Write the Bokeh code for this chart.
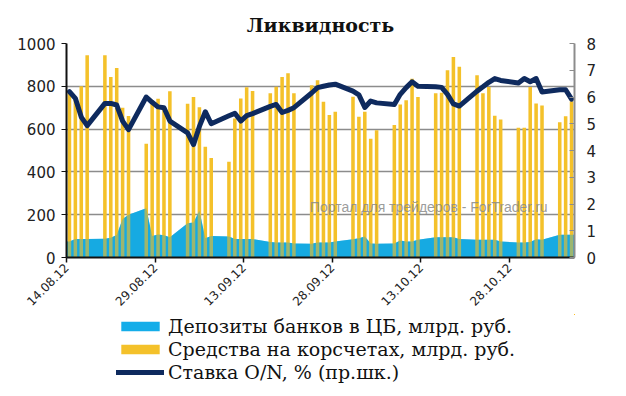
import math
import pandas as pd
from bokeh.plotting import figure
from bokeh.layouts import column
from bokeh.models import (ColumnDataSource, Range1d, LinearAxis, FixedTicker,
                          Legend, LegendItem, Label)
from bokeh.embed import file_html
from bokeh.resources import INLINE

# ---------------- data ----------------
dates = [
    "14.08.12", "15.08.12", "16.08.12", "17.08.12",
    "20.08.12", "21.08.12", "22.08.12", "23.08.12", "24.08.12",
    "27.08.12", "28.08.12", "29.08.12", "30.08.12", "31.08.12",
    "03.09.12", "04.09.12", "05.09.12", "06.09.12", "07.09.12",
    "10.09.12", "11.09.12", "12.09.12", "13.09.12", "14.09.12",
    "17.09.12", "18.09.12", "19.09.12", "20.09.12", "21.09.12",
    "24.09.12", "25.09.12", "26.09.12", "27.09.12", "28.09.12",
    "01.10.12", "02.10.12", "03.10.12", "04.10.12", "05.10.12",
    "08.10.12", "09.10.12", "10.10.12", "11.10.12", "12.10.12",
    "15.10.12", "16.10.12", "17.10.12", "18.10.12", "19.10.12",
    "22.10.12", "23.10.12", "24.10.12", "25.10.12", "26.10.12",
    "29.10.12", "30.10.12", "31.10.12", "01.11.12", "02.11.12",
    "05.11.12", "06.11.12", "07.11.12",
]
korr = [
    770, 750, 800, 945,
    945, 843, 886, 700, 661,
    532, 735, 742, 700, 777,
    718, 750, 702, 517, 465,
    448, 650, 743, 795, 778,
    767, 798, 843, 861, 767,
    805, 828, 728, 666, 681,
    751, 658, 681, 555, 595,
    619, 715, 735, 835, 750,
    767, 770, 875, 937, 891,
    852, 767, 797, 662, 645,
    606, 606, 797, 720, 710,
    632, 660, 730,
]
dep = [
    75, 87, 87, 87,
    88, 92, 105, 180, 200,
    230, 100, 107, 104, 95,
    160, 163, 218, 90, 100,
    98, 86, 86, 86, 86,
    72, 70, 70, 70, 66,
    64, 70, 70, 70, 75,
    85, 90, 98, 66, 64,
    66, 80, 75, 75, 83,
    95, 95, 95, 95, 86,
    83, 83, 83, 83, 75,
    70, 70, 72, 85, 83,
    106, 106, 106,
]
rate = [
    6.20, 5.95, 5.25, 4.93,
    5.76, 5.76, 5.70, 5.10, 4.78,
    6.00, 5.80, 5.63, 5.60, 5.10,
    4.66, 4.22, 4.90, 5.45, 5.00,
    5.30, 5.39, 5.10, 5.30, 5.38,
    5.65, 5.72, 5.42, 5.50, 5.60,
    6.15, 6.35, 6.40, 6.45, 6.48,
    6.22, 6.08, 5.61, 5.85, 5.78,
    5.72, 6.10, 6.35, 6.57, 6.40,
    6.38, 6.36, 6.10, 5.74, 5.66,
    6.22, 6.38, 6.55, 6.69, 6.62,
    6.52, 6.69, 6.57, 6.69, 6.19,
    6.27, 6.27, 5.92,
]
tick_dates = ["14.08.12", "29.08.12", "13.09.12", "28.09.12", "13.10.12", "28.10.12"]
left_ticks = [0, 200, 400, 600, 800, 1000]
right_ticks = [0, 1, 2, 3, 4, 5, 6, 7, 8]

title_text = "Ликвидность"
label_dep = "Депозиты банков в ЦБ, млрд. руб."
label_korr = "Средства на корсчетах, млрд. руб."
label_rate = "Ставка O/N, % (пр.шк.)"
watermark = "Портал для трейдеров - ForTrader.ru"

# ---------------- derived ----------------
dt = pd.to_datetime(dates, format="%d.%m.%y")
t0 = dt[0]
day = [int((d - t0).days) for d in dt]
tdt = pd.to_datetime(tick_dates, format="%d.%m.%y")
tick_x = [float((d - t0).days) - 0.5 for d in tdt]

src = ColumnDataSource(dict(x=day, korr=korr, dep=dep, rate=rate))
# area extended to the slot edges of the first / last day
area_x = [day[0] - 0.5] + day + [day[-1] + 0.5]
area_y = [dep[0]] + dep + [dep[-1]]
asrc = ColumnDataSource(dict(x=area_x, y=area_y))

BLUE = "#14ade9"
YELLOW = "#f4c12a"
NAVY = "#0e2a5e"

# ---------------- main chart ----------------
p = figure(frame_width=508, frame_height=214, output_backend="svg",
           toolbar_location=None,
           x_range=Range1d(day[0] - 0.5, day[-1] + 0.5),
           y_range=Range1d(0, 1000),
           min_border_left=66, min_border_right=52,
           min_border_top=43, min_border_bottom=57)
p.extra_y_ranges = {"rate": Range1d(0, 8)}
p.outline_line_color = None
p.background_fill_color = "white"
p.border_fill_color = "white"

p.title.text = title_text
p.title.align = "center"
p.title.text_font = "DejaVu Serif"
p.title.text_font_style = "bold"
p.title.text_font_size = "19px"
p.title.text_color = "#111111"
p.title.standoff = 16
p.title.offset = 8

p.xgrid.visible = False
p.ygrid.ticker = FixedTicker(ticks=left_ticks)
p.ygrid.grid_line_color = "#8c8c8c"
p.ygrid.grid_line_width = 1.5

def draw(fig):
    a = fig.varea(x="x", y1=0, y2="y", source=asrc, fill_color=BLUE, fill_alpha=1.0)
    b = fig.vbar(x="x", top="korr", width=0.6, source=src, fill_color=YELLOW,
                 line_color=None)
    fig.varea(x="x", y1=0, y2="y", source=asrc, fill_color="#1aa4d8", fill_alpha=0.4)
    l = fig.line(x="x", y="rate", source=src, y_range_name="rate", line_color=NAVY,
                 line_width=5, line_join="round", line_cap="round")
    return a, b, l

draw(p)

xa = p.xaxis[0]
xa.ticker = FixedTicker(ticks=tick_x)
xa.major_label_overrides = {tx: lab for tx, lab in zip(tick_x, tick_dates)}
xa.major_label_orientation = math.pi / 4
xa.major_label_text_font = "DejaVu Sans"
xa.major_label_text_font_size = "12px"
xa.major_label_text_color = "#222222"
xa.axis_line_color = "#111111"
xa.axis_line_width = 2
xa.major_tick_line_color = "#111111"
xa.major_tick_line_width = 1.5
xa.major_tick_out = 5
xa.major_tick_in = 0
xa.minor_tick_line_color = None
xa.major_label_standoff = 3

ya = p.yaxis[0]
ya.ticker = FixedTicker(ticks=left_ticks)
ya.major_label_text_font = "DejaVu Sans"
ya.major_label_text_font_size = "15px"
ya.major_label_text_color = "#222222"
ya.axis_line_color = "#111111"
ya.axis_line_width = 2
ya.major_tick_line_color = "#111111"
ya.major_tick_out = 5
ya.major_tick_in = 0
ya.minor_tick_line_color = None
ya.major_label_standoff = 6

ra = LinearAxis(y_range_name="rate", ticker=FixedTicker(ticks=right_ticks))
ra.major_label_text_font = "DejaVu Sans"
ra.major_label_text_font_size = "15px"
ra.major_label_text_color = "#222222"
ra.axis_line_color = "#8c8c8c"
ra.axis_line_width = 2
ra.major_tick_line_color = "#8c8c8c"
ra.major_tick_in = 5
ra.major_tick_out = 0
ra.minor_tick_line_color = None
ra.major_label_standoff = 12
p.add_layout(ra, "right")

# watermark (kept inside the plot frame)
p.add_layout(Label(x=40.7, y=236, text=watermark, text_font="Liberation Sans",
                   text_font_size="14px", text_color="#8a8a8a", text_alpha=0.85,
                   text_baseline="middle"))

# ---------------- legend strip ----------------
lg = figure(width=626, height=82, output_backend="svg", toolbar_location=None,
            x_axis_type=None, y_axis_type=None,
            x_range=Range1d(-20, -19), y_range=Range1d(-20, -19),
            min_border=0, title=None)
lg.extra_y_ranges = {"rate": Range1d(-20, -19)}
lg.outline_line_color = None
lg.xgrid.visible = False
lg.ygrid.visible = False
ar, br, lr = draw(lg)

legend = Legend(items=[LegendItem(label=label_dep, renderers=[ar]),
                       LegendItem(label=label_korr, renderers=[br]),
                       LegendItem(label=label_rate, renderers=[lr])],
                location=(50, 13), orientation="vertical",
                label_text_font="DejaVu Serif", label_text_font_size="19px",
                label_text_color="#111111",
                glyph_width=48, glyph_height=12, label_height=23,
                label_standoff=4, spacing=0, padding=0, margin=0,
                border_line_color=None, background_fill_alpha=0,
                inactive_fill_alpha=0)
lg.add_layout(legend, "center")

open("out.html", "w").write(file_html(column(p, lg), INLINE))
